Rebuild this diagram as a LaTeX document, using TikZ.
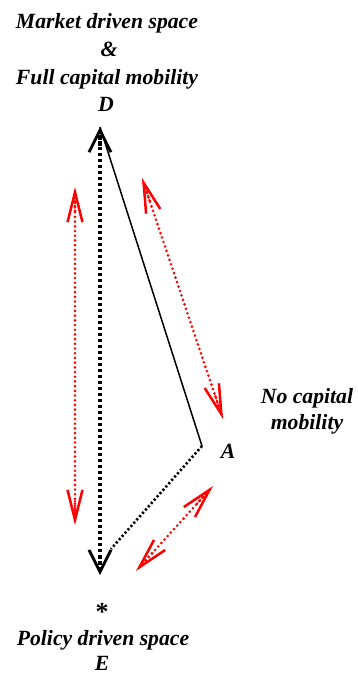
\documentclass[tikz,border=0pt]{standalone}
\usepackage{fontspec}
\setmainfont{Liberation Serif}
\usetikzlibrary{arrows.meta,calc}
\begin{document}
\begin{tikzpicture}[x=1pt,y=-1pt,
  lbl/.style={font=\bfseries\itshape\fontsize{21.7}{26}\selectfont, inner sep=0pt, anchor=base, align=center},
  blkdots/.style={black, line width=3.4pt, dash pattern=on 3pt off 3pt},
  blk/.style={blkdots,
     {Straight Barb[length=22pt,width=22pt,line width=2.8pt]}-{Straight Barb[length=22pt,width=22pt,line width=2.8pt]}},
  rddots/.style={red, line width=2.9pt, line cap=round, dash pattern=on 0pt off 4.7pt},
  rd/.style={rddots,
     {Straight Barb[length=30pt,width=15pt,line width=2.5pt]}-{Straight Barb[length=30pt,width=15pt,line width=2.5pt]}},
  solidln/.style={black, line width=1.5pt},
  dotln/.style={black, line width=2.6pt, dash pattern=on 2.2pt off 2.2pt}]
\useasboundingbox (0,0) rectangle (357,675);
% labels
\node[lbl] (mk) at (107,28) {Market driven space};
\node[lbl] (amp) at (109,56) {\&};
\node[lbl] (fc) at (107,84) {Full capital mobility};
\node[lbl] (dl) at (106,111) {D};
\node[lbl] (nc) at (307,403) {No capital};
\node[lbl] (mob) at (307,429) {mobility};
\node[lbl] (al) at (228,458) {A};
\node[font=\bfseries\fontsize{26}{30}\selectfont, inner sep=0pt] (st) at (102,612) {*};
\node[lbl] (pd) at (103,645) {Policy driven space};
\node[lbl] (el) at (102,670) {E};
% points
\coordinate (D) at (100,127);
\coordinate (E) at (100,575);
\coordinate (A) at (202,446);
\coordinate (Ae) at (111,549);
% black lines
\draw[blk] (E) -- (D);
\draw[blkdots] ($(D)!4pt!(E)$) -- ($(D)!19pt!(E)$);
\draw[blkdots] ($(E)!4pt!(D)$) -- ($(E)!19pt!(D)$);
\draw[solidln] (D) -- (A);
\draw[dotln] (A) -- (Ae);
% red arrows
\coordinate (r1a) at (75,187);
\coordinate (r1b) at (75,525);
\coordinate (r2a) at (142,178);
\coordinate (r2b) at (223,419);
\coordinate (r3a) at (213,486);
\coordinate (r3b) at (136,571);
\foreach \p/\q in {r1a/r1b, r2a/r2b, r3a/r3b}{
  \draw[rd] (\p) -- (\q);
  \draw[rddots] ($(\p)!5pt!(\q)$) -- ($(\p)!27pt!(\q)$);
  \draw[rddots] ($(\q)!5pt!(\p)$) -- ($(\q)!27pt!(\p)$);
}
\end{tikzpicture}
\end{document}
